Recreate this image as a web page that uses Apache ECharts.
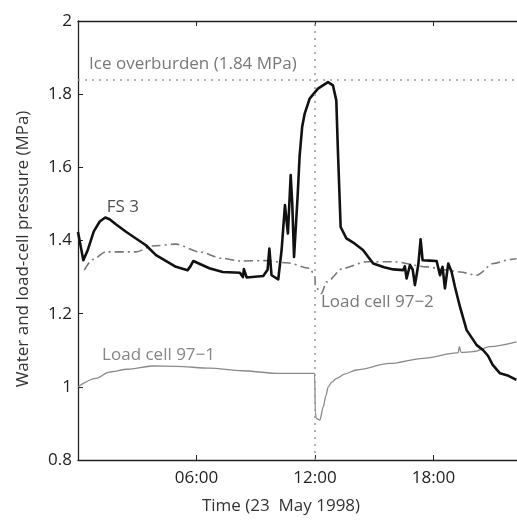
<!DOCTYPE html>
<html>
<head>
<meta charset="utf-8">
<script src="https://cdn.jsdelivr.net/npm/echarts@6/dist/echarts.min.js"></script>
<style>html,body{margin:0;padding:0;background:#fff}#c{width:517px;height:520px}</style>
</head>
<body>
<div id="c"></div>
<script>
// Time in hours on 23 May 1998, pressure in MPa
const fs3 = [[0,1.423],[0.27,1.346],[0.5,1.375],[0.8,1.425],[1.1,1.452],[1.38,1.463],[1.6,1.458],[1.9,1.445],[2.43,1.424],[3.44,1.387],[3.95,1.36],[4.96,1.328],[5.55,1.319],[5.7,1.33],[5.84,1.344],[6.2,1.335],[6.65,1.324],[7.33,1.314],[8.2,1.312],[8.35,1.30],[8.4,1.322],[8.54,1.299],[9.38,1.303],[9.6,1.32],[9.69,1.378],[9.8,1.305],[10.14,1.294],[10.31,1.374],[10.48,1.497],[10.55,1.46],[10.63,1.419],[10.77,1.579],[10.85,1.50],[10.94,1.355],[11.02,1.36],[11.12,1.52],[11.22,1.629],[11.35,1.71],[11.48,1.747],[11.73,1.788],[12.15,1.815],[12.66,1.833],[12.91,1.824],[13.08,1.783],[13.16,1.647],[13.3,1.437],[13.59,1.406],[14.0,1.392],[14.43,1.374],[14.95,1.337],[15.5,1.327],[15.97,1.321],[16.47,1.319],[16.55,1.33],[16.64,1.296],[16.81,1.333],[16.95,1.32],[17.06,1.278],[17.23,1.333],[17.35,1.403],[17.45,1.346],[17.8,1.345],[18.16,1.344],[18.33,1.305],[18.46,1.328],[18.58,1.269],[18.75,1.337],[18.92,1.314],[19.09,1.273],[19.34,1.219],[19.68,1.155],[20.19,1.114],[20.52,1.10],[20.76,1.085],[21.0,1.06],[21.37,1.037],[21.8,1.03],[22.2,1.019]];
const lc972 = [[0.32,1.319],[0.74,1.348],[1.42,1.369],[2.94,1.369],[3.78,1.385],[4.96,1.39],[6.14,1.369],[7.33,1.351],[8.2,1.344],[9.55,1.345],[10.57,1.339],[11.75,1.324],[12.0,1.30],[12.02,1.275],[12.32,1.255],[12.59,1.287],[13.43,1.324],[14.62,1.342],[15.97,1.342],[17.66,1.328],[18.67,1.319],[19.34,1.314],[20.19,1.305],[21.03,1.337],[21.87,1.348],[22.2,1.35]];
const lc971 = [[0,1.0],[0.91,1.023],[1.58,1.04],[2.5,1.048],[3.78,1.057],[5.0,1.056],[6.65,1.051],[8.3,1.044],[10.03,1.037],[11.98,1.037],[12.02,0.93],[12.06,0.914],[12.25,0.909],[12.42,0.946],[12.55,0.975],[12.67,1.0],[12.85,1.013],[13.1,1.023],[13.5,1.035],[14.1,1.046],[15.8,1.064],[17.48,1.078],[19.17,1.093],[19.25,1.093],[19.31,1.11],[19.4,1.094],[20.02,1.096],[20.86,1.11],[22.2,1.123]];
const iceOverburden = 1.84;
const eventTime = 12;
const xTicks = [6, 12, 18];
const annotations = [
  {text: 'Ice overburden (1.84 MPa)', at: [0.56, 1.882], color: '#555'},
  {text: 'FS 3', at: [1.45, 1.491], color: '#222'},
  {text: 'Load cell 97\u22121', at: [1.22, 1.087], color: '#666'},
  {text: 'Load cell 97\u22122', at: [12.3, 1.232], color: '#555'}
];

const FONT = '"Open Sans", sans-serif';
const chart = echarts.init(document.getElementById('c'), null, {renderer: 'canvas'});
const xMin = 0, xMax = 22.23;
const fmt = v => xTicks.indexOf(v) >= 0 ? String(v).padStart(2, '0') + ':00' : '';
chart.setOption({
  animation: false,
  backgroundColor: '#fff',
  grid: {left: 78, right: 0, top: 21, bottom: 60},
  graphic: [
    {type: 'text', x: 281, y: 506, style: {text: 'Time (23  May 1998)', font: '17px ' + FONT, fill: '#333', align: 'center', verticalAlign: 'middle'}},
    {type: 'text', x: 23, y: 249, rotation: Math.PI / 2, style: {text: 'Water and load-cell pressure (MPa)', font: '17px ' + FONT, fill: '#333', align: 'center', verticalAlign: 'middle'}}
  ],
  xAxis: [{
    type: 'value', min: xMin, max: xMax, interval: 6, position: 'bottom',
    axisLine: {lineStyle: {color: '#222', width: 1.3}},
    axisTick: {inside: true, length: 5, lineStyle: {color: '#222'}},
    axisLabel: {formatter: fmt, showMaxLabel: false, fontFamily: FONT, fontSize: 17, color: '#222', margin: 10},
    splitLine: {show: false}
  }, {
    type: 'value', min: xMin, max: xMax, interval: 6, position: 'top',
    axisLine: {lineStyle: {color: '#222', width: 1.3}},
    axisTick: {inside: true, length: 5, lineStyle: {color: '#222'}},
    axisLabel: {show: false}, splitLine: {show: false}
  }],
  yAxis: {
    type: 'value', min: 0.8, max: 2, interval: 0.2,
    axisLine: {show: true, lineStyle: {color: '#222', width: 1.3}},
    axisTick: {inside: true, length: 5, lineStyle: {color: '#222'}},
    axisLabel: {formatter: v => String(+v.toFixed(1)), fontFamily: FONT, fontSize: 17, color: '#222', margin: 6},
    splitLine: {show: false}
  },
  series: [
    {
      type: 'line', data: lc971, showSymbol: false, z: 2, smooth: 0.3, smoothMonotone: 'x',
      lineStyle: {color: '#8a8a8a', width: 1.3},
      markLine: {
        silent: true, symbol: 'none', label: {show: false},
        lineStyle: {color: '#9a9a9a', type: [2, 5], width: 1.5},
        data: [{yAxis: iceOverburden}, {xAxis: eventTime}]
      }
    },
    {
      type: 'line', data: lc972, showSymbol: false, z: 3, smooth: 0.3, smoothMonotone: 'x',
      lineStyle: {color: '#777', width: 1.6, type: [9, 4, 2, 4]}
    },
    {
      type: 'line', data: fs3, showSymbol: false, z: 4,
      lineStyle: {color: '#111', width: 2.6, join: 'round'}
    },
    {
      type: 'scatter', symbolSize: 0, silent: true, z: 5,
      data: annotations.map(a => ({
        value: a.at,
        label: {show: true, formatter: a.text, position: 'right', distance: 0,
                fontFamily: FONT, fontSize: 17, color: a.color}
      }))
    }
  ]
});
</script>
</body>
</html>
